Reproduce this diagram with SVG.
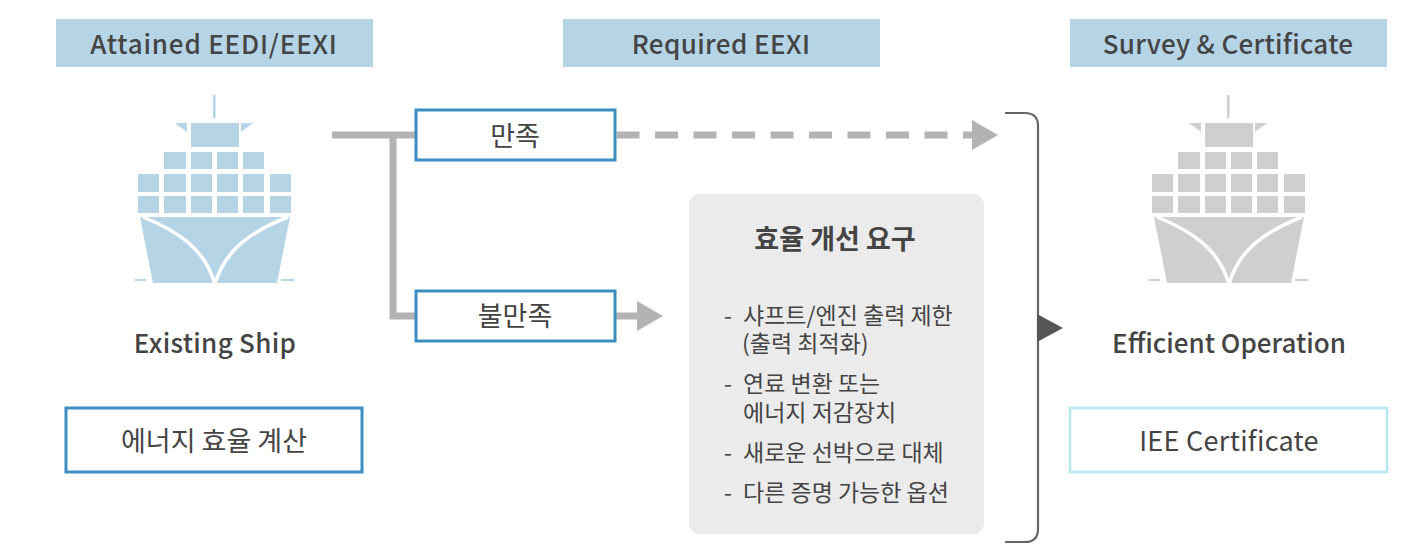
<svg xmlns="http://www.w3.org/2000/svg" width="1426" height="556" viewBox="0 0 1426 556">
<style>
text{font-family:"Noto Sans CJK KR","Noto Sans",sans-serif;fill:#444;text-anchor:middle}
.hd{fill:#b5d4e6}
.ht{font-size:26px;font-weight:500}
.lb{font-size:26px;font-weight:500}
.box{fill:#fff;stroke:#3d8fc0;stroke-width:3}
.bt{font-size:27px}
.li{font-size:23px;text-anchor:start}
.conn{fill:none;stroke:#b3b3b3;stroke-width:7}
.curve{fill:none;stroke:#fff;stroke-width:3.5}
</style>
<defs>
<marker id="ah" markerUnits="userSpaceOnUse" markerWidth="26" markerHeight="30" refX="0" refY="15" orient="auto"><path d="M0 0L26 15L0 30Z" fill="#b3b3b3"/></marker>
<g id="ship">
<rect x="213" y="95" width="2.5" height="23"/>
<path d="M175 123H187V132ZM253 123H241V132Z"/>
<rect x="191" y="123" width="48" height="24"/>
<path d="M164 152h22v17h-22zM191 152h21v17h-21zM217 152h21v17h-21zM243 152h21v17h-21z"/>
<path d="M138 174h21v18h-21zM164 174h22v18h-22zM191 174h21v18h-21zM217 174h21v18h-21zM243 174h21v18h-21zM270 174h21v18h-21z"/>
<path d="M138 196h21v17h-21zM164 196h22v17h-22zM191 196h21v17h-21zM217 196h21v17h-21zM243 196h21v17h-21zM270 196h21v17h-21z"/>
<path d="M140 217H290L277 283H153Z"/>
<path d="M135 279h11v2h-11zM281 279h13v2h-13z"/>
<path class="curve" d="M143 217C180 232 205 250 215 284C225 250 250 232 288 217"/>
</g>
</defs>
<g id="connectors">
<path class="conn" d="M332 135H416M393 135V316H416"/>
<path class="conn" d="M616.500 135H972" stroke-dasharray="23 15.500" marker-end="url(#ah)"/>
<path class="conn" d="M615 316H637" marker-end="url(#ah)"/>
<path d="M1005 113H1025Q1038 113 1038 126V529Q1038 542 1025 542H1005" fill="none" stroke="#666" stroke-width="2.200"/>
<path d="M1037 314L1063 328L1037 342Z" fill="#555"/>
</g>
<g id="header-attained"><rect class="hd" x="56" y="19" width="317" height="48"/><text class="ht" x="214" y="54" letter-spacing="0.800">Attained EEDI/EEXI</text></g>
<g id="header-required"><rect class="hd" x="563" y="19" width="317" height="48"/><text class="ht" x="721" y="54" letter-spacing="0.400">Required EEXI</text></g>
<g id="header-survey"><rect class="hd" x="1070" y="19" width="317" height="48"/><text class="ht" x="1228" y="54" letter-spacing="0.300">Survey &amp; Certificate</text></g>
<g id="ship-existing"><use href="#ship" fill="#b5d4e6"/><text class="lb" x="215" y="353" letter-spacing="0.300">Existing Ship</text></g>
<g id="ship-efficient"><use href="#ship" x="1014" fill="#cfcfcf"/><text class="lb" x="1229" y="353">Efficient Operation</text></g>
<g id="box-calc"><rect class="box" x="66" y="408" width="296" height="64"/><text class="bt" x="214" y="451">에너지 효율 계산</text></g>
<g id="box-cert"><rect x="1070" y="408" width="317" height="64" fill="#fff" stroke="#b6e6ee" stroke-width="2.500"/><text class="bt" x="1229" y="451" letter-spacing="0.300">IEE Certificate</text></g>
<g id="box-ok"><rect class="box" x="416" y="110" width="199" height="50"/><text class="bt" x="515" y="146">만족</text></g>
<g id="box-nok"><rect class="box" x="416" y="291" width="199" height="50"/><text class="bt" x="515" y="326">불만족</text></g>
<g id="panel">
<rect x="689" y="194" width="295" height="340" rx="11" fill="#ebebeb"/>
<text x="835" y="249" font-size="27" font-weight="700">효율 개선 요구</text>
<text class="li"><tspan x="724" y="324">-</tspan><tspan x="743" y="324">샤프트/엔진 출력 제한</tspan><tspan x="742" y="352">(출력 최적화)</tspan></text>
<text class="li"><tspan x="724" y="392">-</tspan><tspan x="743" y="392">연료 변환 또는</tspan><tspan x="743" y="421">에너지 저감장치</tspan></text>
<text class="li"><tspan x="724" y="461">-</tspan><tspan x="743" y="461">새로운 선박으로 대체</tspan></text>
<text class="li"><tspan x="724" y="501">-</tspan><tspan x="743" y="501">다른 증명 가능한 옵션</tspan></text>
</g>
</svg>
